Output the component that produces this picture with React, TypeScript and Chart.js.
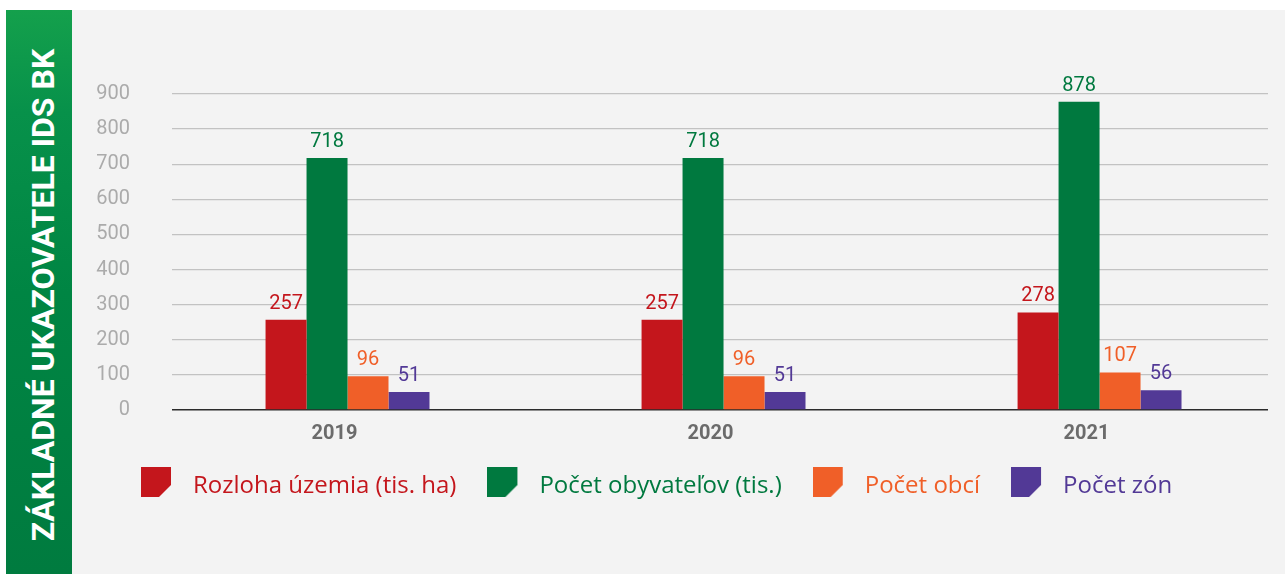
import React, { useEffect, useRef } from 'react';
import { Chart, registerables } from 'chart.js';

Chart.register(...registerables);

const years = ['2019', '2020', '2021'];
const rozlohaUzemia = [257, 257, 278];
const pocetObyvatelov = [718, 718, 878];
const pocetObci = [96, 96, 107];
const pocetZon = [51, 51, 56];
const seriesNames = ['Rozloha územia (tis. ha)', 'Počet obyvateľov (tis.)', 'Počet obcí', 'Počet zón'];
const seriesColors = ['#c4161c', '#00793f', '#f05f28', '#523996'];
const yMin = 0;
const yMax = 900;
const yStep = 100;
const bannerTitle = 'ZÁKLADNÉ UKAZOVATELE IDS BK';

function makeMarker(color: string) {
  const c = document.createElement('canvas');
  c.width = 40;
  c.height = 38;
  const g = c.getContext('2d')!;
  g.fillStyle = color;
  g.beginPath();
  g.moveTo(0, 0);
  g.lineTo(30, 0);
  g.lineTo(30, 18);
  g.lineTo(18, 30);
  g.lineTo(0, 30);
  g.closePath();
  g.fill();
  return c;
}

const valueLabels = {
  id: 'valueLabels',
  afterDatasetsDraw(chart: any) {
    const ctx = chart.ctx;
    ctx.save();
    ctx.font = '20px Roboto';
    ctx.textAlign = 'center';
    ctx.textBaseline = 'alphabetic';
    chart.data.datasets.forEach((ds: any, di: number) => {
      const meta = chart.getDatasetMeta(di);
      meta.data.forEach((el: any, i: number) => {
        ctx.fillStyle = ds.backgroundColor;
        ctx.fillText(String(ds.data[i].y), el.x, el.y - 11);
      });
    });
    ctx.restore();
  },
};

const legendShift = {
  id: 'legendShift',
  afterLayout(chart: any) {
    if (chart.legend) {
      chart.legend.left += 38;
    }
  },
};

export default function App() {
  const canvasRef = useRef<HTMLCanvasElement | null>(null);

  useEffect(() => {
    const seriesValues = [rozlohaUzemia, pocetObyvatelov, pocetObci, pocetZon];
    const markers = seriesColors.map((c) => makeMarker(c));
    const chart = new Chart(canvasRef.current!, {
      type: 'bar',
      data: {
        datasets: seriesValues.map((vals, si) => ({
          label: seriesNames[si],
          data: vals.map((v, i) => ({ x: i, y: v })),
          backgroundColor: seriesColors[si],
          borderWidth: 0,
          barPercentage: 1,
          categoryPercentage: 0.436,
        })),
      },
      options: {
        animation: false,
        responsive: true,
        maintainAspectRatio: false,
        layout: { padding: { left: 0, right: 17, top: 84, bottom: 66 } },
        plugins: {
          tooltip: { enabled: false },
          legend: {
            position: 'bottom',
            align: 'start',
            labels: {
              usePointStyle: true,
              pointStyleWidth: 40,
              padding: 31,
              font: { family: 'Open Sans', size: 24 },
              generateLabels: (ch: any) =>
                ch.data.datasets.map((ds: any, i: number) => ({
                  text: ds.label,
                  fillStyle: ds.backgroundColor,
                  strokeStyle: ds.backgroundColor,
                  fontColor: ds.backgroundColor,
                  lineWidth: 0,
                  pointStyle: markers[i],
                  hidden: false,
                  datasetIndex: i,
                })),
            },
          },
        },
        scales: {
          x: {
            type: 'linear',
            min: -0.4668,
            max: 2.448,
            offset: false,
            grid: { display: false, drawTicks: false },
            border: { display: false },
            afterBuildTicks: (s: any) => {
              s.ticks = years.map((_, i) => ({ value: i }));
            },
            afterFit: (s: any) => {
              s.height = 33;
            },
            ticks: {
              autoSkip: false,
              maxRotation: 0,
              labelOffset: -13,
              padding: 12,
              color: '#6b6b6b',
              font: { family: 'Roboto', size: 20, weight: 'bold' },
              callback: (v: any) => years[v] ?? '',
            },
          },
          y: {
            min: yMin,
            max: yMax,
            ticks: {
              stepSize: yStep,
              padding: 42,
              color: '#ababab',
              font: { family: 'Roboto', size: 20 },
            },
            grid: {
              drawTicks: false,
              color: (c: any) => (c.tick && c.tick.value === 0 ? '#2b2b2b' : '#c2c2c2'),
              lineWidth: (c: any) => (c.tick && c.tick.value === 0 ? 1.5 : 1.3),
            },
            border: { display: false },
            afterFit: (s: any) => {
              s.width = 100;
            },
          },
        },
      } as any,
      plugins: [valueLabels, legendShift],
    });
    return () => chart.destroy();
  }, []);

  return (
    <div style={{ position: 'absolute', left: 0, top: 0, width: 1285, height: 574, background: '#ffffff', overflow: 'hidden' }}>
      <div
        style={{
          position: 'absolute',
          left: 6,
          top: 10,
          width: 66,
          height: 564,
          background: 'linear-gradient(180deg, #14a04c 0%, #07914a 18%, #008543 50%, #007b3f 100%)',
        }}
      />
      <div
        style={{
          position: 'absolute',
          left: 43,
          top: 294.5,
          transform: 'translate(-50%, -50%) rotate(-90deg)',
          whiteSpace: 'nowrap',
          fontFamily: 'Roboto',
          fontWeight: 700,
          fontSize: 32,
          lineHeight: '32px',
          color: '#ffffff',
        }}
      >
        {bannerTitle}
      </div>
      <div style={{ position: 'absolute', left: 72, top: 10, width: 1213, height: 564, background: '#f3f3f3' }}>
        <canvas ref={canvasRef} />
      </div>
    </div>
  );
}
